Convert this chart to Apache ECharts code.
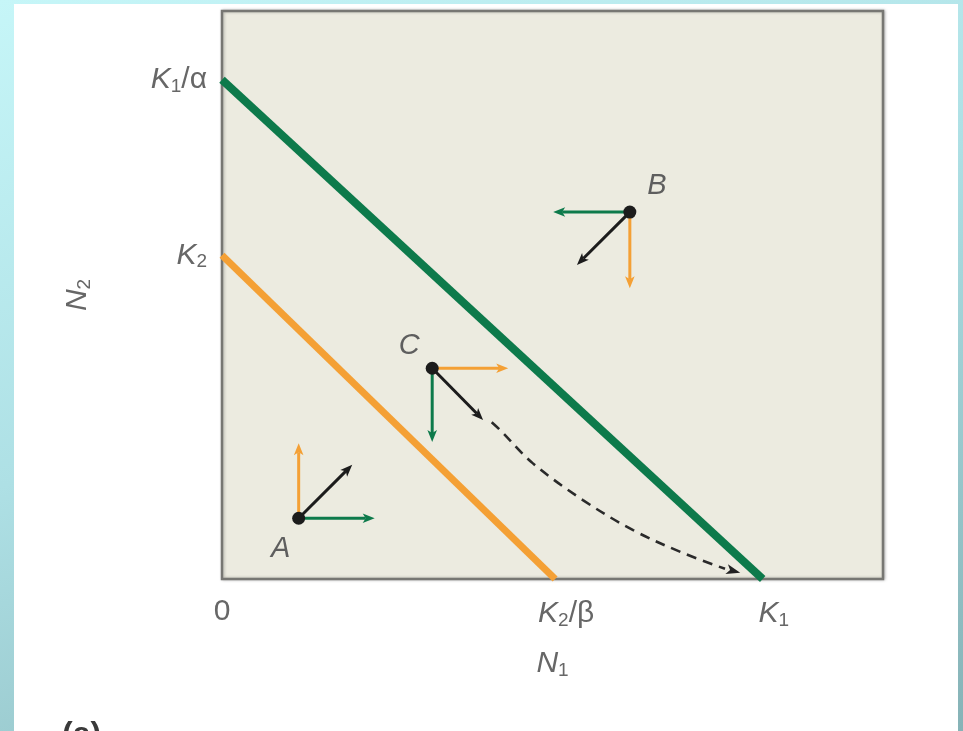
<!DOCTYPE html>
<html>
<head>
<meta charset="utf-8">
<script src="https://cdn.jsdelivr.net/npm/echarts@6/dist/echarts.min.js"></script>
<style>
  html, body { margin: 0; padding: 0; }
  body {
    width: 963px; height: 731px; position: relative; overflow: hidden;
    background: linear-gradient(160deg, #c6f6f8 0%, #aee0e5 45%, #86b3b7 100%);
  }
  #panel { position: absolute; left: 14px; top: 4px; width: 944px; height: 727px; background: #ffffff; }
  #chart { position: absolute; left: 0; top: 0; width: 963px; height: 731px; }
</style>
</head>
<body>
<div id="panel"></div>
<div id="chart"></div>
<script>
// Carrying capacities and competition intercepts (axis units)
const K1 = 81.8;        // N1 intercept of the species-1 isocline
const K1_ALPHA = 87.9;  // N2 intercept of the species-1 isocline
const K2 = 57.0;        // N2 intercept of the species-2 isocline
const K2_BETA = 50.4;   // N1 intercept of the species-2 isocline

// Tick labels
const xTickValues = [0, K2_BETA, K1];
const xTickLabels = ['0', 'K2/β', 'K1'];
const yTickValues = [K2, K1_ALPHA];
const yTickLabels = ['K2', 'K1/α'];

// Isoclines
const isocline1N1 = [0, K1];
const isocline1N2 = [K1_ALPHA, 0];
const isocline2N1 = [0, K2_BETA];
const isocline2N2 = [K2, 0];

// Sample states
const pointNames = ['A', 'B', 'C'];
const pointN1 = [11.6, 61.7, 31.8];
const pointN2 = [10.7, 64.6, 37.1];

// Change vectors at each state: [dN1, dN2]
const greenVec  = [[11.5, 0], [-11.6, 0], [0, -13.0]];
const orangeVec = [[0, 13.2], [0, -13.4], [11.5, 0]];
const netVec    = [[8.1, 9.4], [-8.0, -9.3], [7.7, -9.1]];

// Trajectory from C toward K1
const trajN1 = [40.8, 42.1, 47.0, 54.6, 62.2, 69.7, 76.1];
const trajN2 = [27.6, 26.2, 20.4, 13.9, 8.6, 4.6, 1.8];
const trajTip = [78.4, 1.1];

const GREEN = '#0d7a4b';
const ORANGE = '#f4a035';
const INK = '#1c1c1c';
const TEXT = '#676767';
const FONT = '"Liberation Sans", Arial, sans-serif';

const rich = {
  i: { fontFamily: FONT, fontStyle: 'italic', fontSize: 30, color: TEXT },
  n: { fontFamily: FONT, fontSize: 30, color: TEXT },
  s: { fontFamily: FONT, fontSize: 19, color: TEXT, padding: [14, 0, 0, 0] },
  gap: { width: 22 }
};

// "K2/β" -> italic K, subscript 2, upright remainder
function toRich(label) {
  const m = /^([KN])(\d)(.*)$/.exec(label);
  if (!m) return '{n|' + label + '}';
  return '{i|' + m[1] + '}{s|' + m[2] + '}' + (m[3] ? '{n|' + m[3] + '}' : '');
}

function zip(a, b) { return a.map((v, i) => [v, b[i]]); }

// Straight arrow from (x0,y0) to (x1,y1) with a notched head
function arrowRenderer(color, width, headLen, headHalf) {
  return function (params, api) {
    const p0 = api.coord([api.value(0), api.value(1)]);
    const p1 = api.coord([api.value(2), api.value(3)]);
    const dx = p1[0] - p0[0], dy = p1[1] - p0[1];
    const len = Math.sqrt(dx * dx + dy * dy) || 1;
    const ux = dx / len, uy = dy / len;
    const px = -uy, py = ux;
    const bx = p1[0] - ux * headLen, by = p1[1] - uy * headLen;
    const nx = p1[0] - ux * headLen * 0.75, ny = p1[1] - uy * headLen * 0.75;
    const children = [
      {
        type: 'polygon',
        shape: { points: [[p1[0], p1[1]], [bx + px * headHalf, by + py * headHalf], [nx, ny], [bx - px * headHalf, by - py * headHalf]] },
        style: { fill: color }
      }
    ];
    if (params.seriesName !== 'trajectory head') {
      children.unshift({
        type: 'line',
        shape: { x1: p0[0], y1: p0[1], x2: nx, y2: ny },
        style: { stroke: color, lineWidth: width }
      });
    }
    return { type: 'group', children: children };
  };
}

function arrowSeries(name, vecs, color) {
  return {
    name: name,
    type: 'custom',
    silent: true,
    z: 5,
    encode: { x: [0, 2], y: [1, 3] },
    renderItem: arrowRenderer(color, 3, 12, 4.8),
    data: vecs.map((v, i) => [pointN1[i], pointN2[i], pointN1[i] + v[0], pointN2[i] + v[1]])
  };
}

const labelOffsets = { A: [-18, 31], B: [27, -26], C: [-23, -22] };

const chart = echarts.init(document.getElementById('chart'), null, { renderer: 'canvas' });
chart.setOption({
  backgroundColor: 'transparent',
  animation: false,
  grid: {
    left: 222, top: 11, width: 661, height: 568,
    show: true,
    backgroundColor: '#ecebe0',
    borderColor: '#777773',
    borderWidth: 2.5,
    shadowColor: 'rgba(0,0,0,0.25)',
    shadowBlur: 3,
    shadowOffsetX: 1
  },
  xAxis: {
    type: 'value', min: 0, max: 100,
    axisLine: { show: false }, axisTick: { show: false }, splitLine: { show: false },
    axisLabel: {
      customValues: xTickValues,
      margin: 18,
      rich: rich,
      formatter: (v, idx) => {
        const k = xTickValues.indexOf(v);
        const lab = xTickLabels[k >= 0 ? k : idx];
        return (lab === '0' ? '' : '{gap|}') + toRich(lab);
      }
    },
    name: toRich('N1'),
    nameLocation: 'middle',
    nameGap: 68,
    nameTextStyle: { rich: rich }
  },
  yAxis: {
    type: 'value', min: 0, max: 100,
    axisLine: { show: false }, axisTick: { show: false }, splitLine: { show: false },
    axisLabel: {
      customValues: yTickValues,
      margin: 15,
      rich: rich,
      formatter: (v, idx) => {
        const k = yTickValues.indexOf(v);
        return toRich(yTickLabels[k >= 0 ? k : idx]);
      }
    },
    name: toRich('N2'),
    nameLocation: 'middle',
    nameGap: 128,
    nameTextStyle: { rich: rich }
  },
  series: [
    {
      name: 'isocline N2',
      type: 'line', data: zip(isocline2N1, isocline2N2),
      symbol: 'none', silent: true, z: 3,
      lineStyle: { color: ORANGE, width: 7 }
    },
    {
      name: 'isocline N1',
      type: 'line', data: zip(isocline1N1, isocline1N2),
      symbol: 'none', silent: true, z: 3,
      lineStyle: { color: GREEN, width: 8 }
    },
    {
      name: 'trajectory',
      type: 'line', data: zip(trajN1, trajN2),
      smooth: 0.35, symbol: 'none', silent: true, z: 4,
      lineStyle: { color: '#2a2a2a', width: 2.6, type: [10, 7] }
    },
    {
      name: 'trajectory head',
      type: 'custom', silent: true, z: 4,
      encode: { x: [0, 2], y: [1, 3] },
      renderItem: arrowRenderer('#222', 2.5, 14, 5),
      data: [[trajN1[trajN1.length - 1], trajN2[trajN2.length - 1], trajTip[0], trajTip[1]]]
    },
    arrowSeries('dN2', orangeVec, ORANGE),
    arrowSeries('dN1', greenVec, GREEN),
    arrowSeries('net', netVec, INK),
    {
      name: 'states',
      type: 'scatter', z: 10, silent: true,
      symbolSize: 13,
      itemStyle: { color: INK, opacity: 1 },
      data: pointNames.map((nm, i) => ({
        name: nm,
        value: [pointN1[i], pointN2[i]],
        label: {
          show: true, formatter: nm, position: 'inside',
          offset: labelOffsets[nm],
          fontFamily: FONT, fontStyle: 'italic', fontSize: 29, color: '#5e5e5e'
        }
      }))
    }
  ],
  graphic: [
    {
      type: 'text', left: 62, top: 719, silent: true,
      style: { text: '(a)', font: 'bold 32px ' + FONT, fill: '#3a3a3a' }
    }
  ]
});
</script>
</body>
</html>
